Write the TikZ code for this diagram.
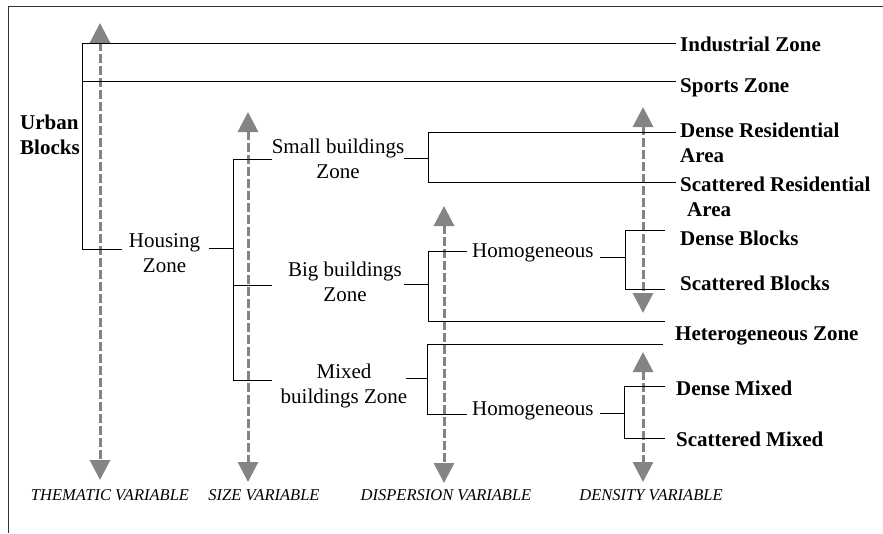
\documentclass[tikz,border=0pt]{standalone}
\usepackage{fontspec}
\setmainfont{Liberation Serif}
\usetikzlibrary{arrows.meta}

\definecolor{axisgray}{RGB}{132,132,132}
\tikzset{
  branch/.style={line width=0.9pt},
  leaf/.style={font=\fontsize{21}{25}\selectfont\bfseries, anchor=base west, inner xsep=4pt, inner ysep=0pt, align=left},
  zone/.style={font=\fontsize{21}{25}\selectfont, inner sep=0pt, align=center},
  varaxis/.style={line width=3pt, draw=axisgray, dash pattern=on 9pt off 3pt,
    {Triangle[width=20pt,length=20pt]}-{Triangle[width=20pt,length=20pt]}},
  varlabel/.style={font=\fontsize{16.5}{20}\selectfont\itshape, anchor=base, inner sep=0pt},
}

\begin{document}
\begin{tikzpicture}[x=1pt,y=-1pt]
\useasboundingbox (0,0) rectangle (883,533);
\draw[line width=1pt,black!80] (883,6) -- (8,6) -- (8,533);

% variable axes
\foreach \x/\ya/\yb in {100/23/480, 248/112/482, 444/206/483, 643/107/313, 643/352/482}
  \draw[varaxis] (\x,\ya) -- (\x,\yb);
\node[varlabel] (thv) at (110,500) {THEMATIC VARIABLE};
\node[varlabel] (szv) at (264,500) {SIZE VARIABLE};
\node[varlabel] (dsv) at (446,500) {DISPERSION VARIABLE};
\node[varlabel] (dnv) at (651,500) {DENSITY VARIABLE};

% labels
\node[leaf,anchor=west,inner xsep=0pt] (urb) at (20,134.8) {Urban\\Blocks};
\node[zone] (hou) at (164.5,252.8) {Housing\\Zone};
\node[zone] (sbz) at (338,159) {Small buildings\\Zone};
\node[zone] (bbz) at (345,282) {Big buildings\\Zone};
\node[zone] (mbz) at (344,385.5) {Mixed\\buildings Zone};
\node[zone,anchor=base west] (hom1) at (472,257) {Homogeneous};
\node[zone,anchor=base west] (hom2) at (472,415) {Homogeneous};

\node[leaf] (ind) at (676,51) {Industrial Zone};
\node[leaf] (spo) at (676,92) {Sports Zone};
\node[leaf,anchor=west] (dra) at (676,142.4) {Dense Residential\\Area};
\node[leaf,anchor=west] (sra) at (676,196.4) {Scattered Residential\\\hspace*{7pt}Area};
\node[leaf] (dbl) at (676,245) {Dense Blocks};
\node[leaf] (sbl) at (676,290) {Scattered Blocks};
\node[leaf] (het) at (671,340) {Heterogeneous Zone};
\node[leaf] (dmx) at (672,395) {Dense Mixed};
\node[leaf] (smx) at (672,446) {Scattered Mixed};

% thematic split
\coordinate (th1) at (82,43);
\coordinate (th2) at (82,81);
\coordinate (th3) at (82,249);
\draw[branch] (th1 -| ind.west) -- (th1) -- (th3) -- ++(40,0);
\draw[branch] (th2) -- (th2 -| spo.west);

% size split
\coordinate (sz0) at (209,248);
\coordinate (sz1) at (233,159);
\coordinate (sz2) at (233,285);
\coordinate (sz3) at (233,380);
\draw[branch] (sz0) -- (sz0 -| sz1);
\draw[branch] ([xshift=39pt]sz1) -- (sz1) -- (sz3) -- ++(39,0);
\draw[branch] (sz2) -- ++(39,0);

% dispersion split
\coordinate (sm1) at (428,132);
\coordinate (sm2) at (428,182);
\draw[branch] (404,158) -- (428,158);
\draw[branch] (sm1 -| dra.west) -- (sm1) -- (sm2) -- (sm2 -| sra.west);
\coordinate (bg1) at (428,251);
\coordinate (bg2) at (428,321);
\draw[branch] (404,284) -- (428,284);
\draw[branch] (467,251) -- (bg1) -- (bg2) -- (665,321);
\coordinate (mx1) at (427,344);
\coordinate (mx2) at (427,414);
\draw[branch] (406,378) -- (428,378);
\draw[branch] (663,344) -- (mx1) -- (mx2) -- (467,414);

% density split
\coordinate (hb1) at (625,230);
\coordinate (hb2) at (625,289);
\draw[branch] (600,257) -- (625,257);
\draw[branch] (665,230) -- (hb1) -- (hb2) -- (665,289);
\coordinate (hm1) at (624,386);
\coordinate (hm2) at (624,438);
\draw[branch] (600,413) -- (624,413);
\draw[branch] (665,386) -- (hm1) -- (hm2) -- (665,438);
\end{tikzpicture}
\end{document}
